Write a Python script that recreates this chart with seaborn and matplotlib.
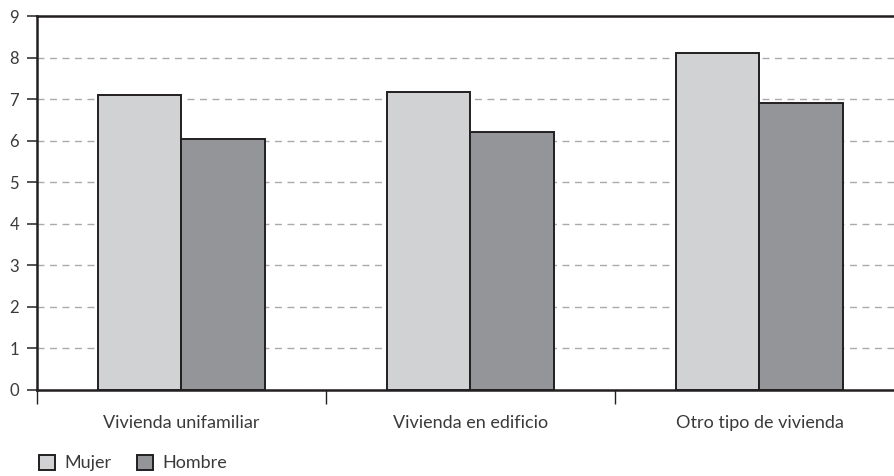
import matplotlib
matplotlib.use("Agg")
import matplotlib.pyplot as plt
import seaborn as sns
import pandas as pd
from matplotlib.ticker import FixedLocator

categories = ["Vivienda unifamiliar", "Vivienda en edificio", "Otro tipo de vivienda"]
mujer = [7.10, 7.17, 8.11]
hombre = [6.03, 6.21, 6.91]
series = ["Mujer", "Hombre"]
colors = ["#d1d2d4", "#939598"]
yticks = list(range(0, 10))

df = pd.DataFrame({
    "cat": categories * 2,
    "sexo": [series[0]] * 3 + [series[1]] * 3,
    "val": mujer + hombre,
})

sns.set_theme(style="white")
plt.rcParams["font.family"] = ["Lato", "DejaVu Sans"]

fig = plt.figure(figsize=(8.95, 4.76), dpi=100)
ax = fig.add_axes([37/895, 1-390/476, 867/895, 374/476])

sns.barplot(data=df, x="cat", y="val", hue="sexo", palette=colors,
            width=0.575, gap=0, edgecolor="#231f20", linewidth=1.4,
            saturation=1, ax=ax, legend=True, zorder=3)

ax.set_xlim(-0.5, 2.5)
ax.set_ylim(0, 9)
ax.set_yticks(yticks)
ax.set_yticklabels([str(t) for t in yticks])
ax.yaxis.grid(True, linestyle=(0, (5, 4)), color="#aaaaaa", linewidth=1.0, zorder=0)
ax.set_axisbelow(True)
ax.tick_params(axis="y", direction="out", length=7, width=1.3, color="#444444", pad=6,
               left=True, labelsize=12, labelcolor="#3a3a3a")
ax.tick_params(axis="x", which="major", length=0, pad=18, labelsize=13, labelcolor="#3a3a3a")
ax.xaxis.set_minor_locator(FixedLocator([-0.5, 0.5, 1.5, 2.5]))
ax.tick_params(axis="x", which="minor", direction="out", length=10, width=1.0, color="#231f20", bottom=True)
ax.set_xlabel("")
ax.set_ylabel("")
for s in ["left", "bottom", "top"]:
    ax.spines[s].set_color("#231f20")
    ax.spines[s].set_linewidth(1.8)
ax.spines["right"].set_visible(False)

leg = ax.get_legend()
handles = leg.legend_handles
leg.remove()
fig.legend(handles, series, loc="center left", bbox_to_anchor=(23/895, 1-463/476), ncol=2,
           frameon=False, fontsize=13, handlelength=0.9, handleheight=0.9,
           handletextpad=0.5, columnspacing=1.4, labelcolor="#3a3a3a")

fig.savefig("out.png", dpi=100)
